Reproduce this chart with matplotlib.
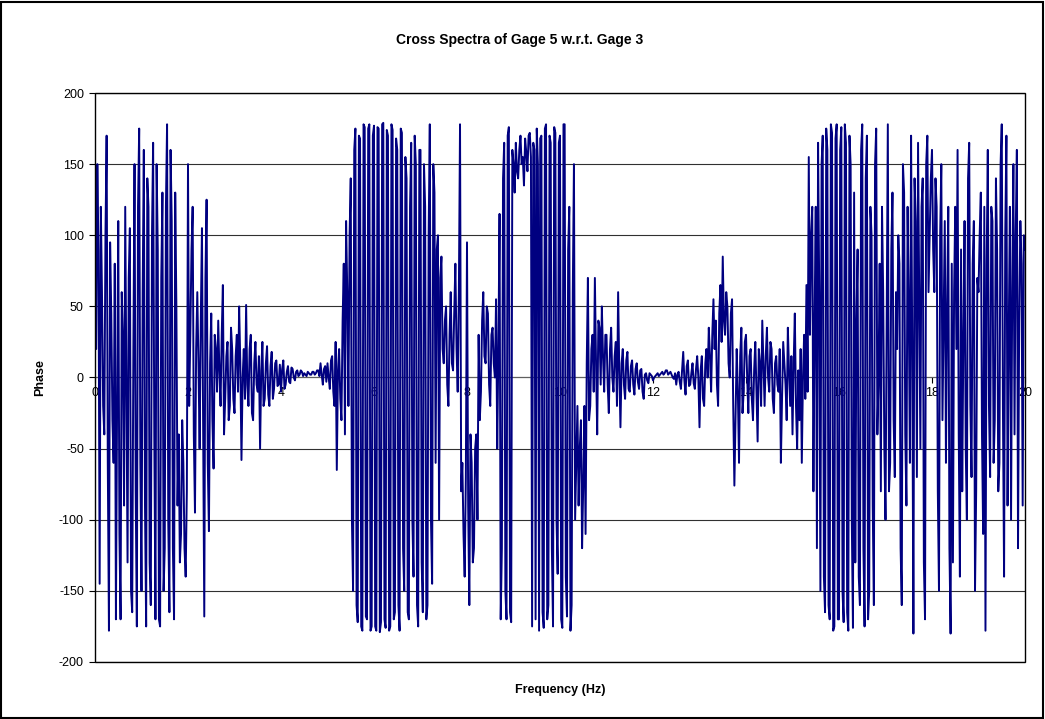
import matplotlib
matplotlib.use("Agg")
import matplotlib.pyplot as plt
import numpy as np
from matplotlib.patches import Rectangle

plt.rcParams['font.family'] = ['Liberation Sans', 'DejaVu Sans']
plt.rcParams['axes.unicode_minus'] = False

# phase (deg), one value every 0.025 Hz from 0 to 20 Hz
freq_step = 0.025
phase_0 = [130, 20, 150, 90, -145, 120, 60, -20, -40, 100, 170, -60, -178, 95, 45, -30, -60, 80, -170, -20,
           110, -110, -170, 60, 30, -90, 120, -10, -130, 70, 105, -150, -165, 20, 150, -80, -175, 120, 175, -60]
phase_1 = [-150, 60, 160, -90, -175, 140, 120, -130, -160, 100, 165, -40, -170, 150, 90, -170, -175, 70, 130, -150,
           -120, 120, 178, -100, -165, 160, 110, -120, -170, 130, 50, -90, -40, -130, -110, -30, -60, -120, -140, -80]
phase_2 = [150, -20, 30, 90, 120, -40, -95, 20, 60, 10, -50, 40, 105, -30, -168, 70, 125, -60, -108, 10,
           45, -30, -64, 30, 20, -10, 40, 5, -20, 30, 65, -40, -15, 15, 25, -30, -20, 35, 20, -15]
phase_3 = [-25, 15, 30, -10, 50, 10, -58, 0, 20, -15, 51, -5, -20, 20, 30, -25, -30, 10, 25, -5,
           -10, 15, -50, 5, 25, -20, -15, 10, 22, -12, -20, 8, 18, -15, -8, 10, 12, -6, -5, 9]
phase_4 = [-10, 6, 12, -8, -5, 4, 8, -3, -4, 7, 6, 0, -2, 4, 5, 1, 2, 5, 4, 1,
           3, 2, 1, 4, 3, 2, 2, 4, 4, 2, 3, 5, 5, 1, 10, 2, -5, 6, 8, -3]
phase_5 = [10, 0, -8, 12, 15, -10, -20, 25, -65, 5, 20, -15, -30, 40, 80, -40, 110, 60, -20, 100,
           140, -100, -150, 160, 175, -160, -172, 170, 168, -175, -178, 178, 176, -168, -170, 175, 178, -178, -175, 170]
phase_6 = [177, -175, -178, 176, 175, -179, -172, 178, 179, -170, -176, 174, 170, -178, -175, 178, 174, -170, -165, 168,
           160, -160, -178, 175, 172, -120, -150, 155, 140, -165, -170, 120, 165, -100, -140, 170, 150, -160, -175, 160]
phase_7 = [160, -130, -165, 150, 120, -170, -160, 100, 178, -100, -145, 150, 130, -60, 90, 100, -100, 70, 85, 20,
           10, 40, 50, -5, -20, 30, 60, 10, 5, 45, 80, 20, -10, 60, 178, -80, -60, -110, -140, -70]
phase_8 = [95, -90, -160, -40, -60, -130, -120, -50, -40, -100, 30, -30, -10, 40, 60, 15, 10, 50, 45, -5,
           -20, 30, 35, 10, 0, 55, -50, 20, 115, -170, -120, 140, 165, -150, -170, 170, 176, -165, -172, 160]
phase_9 = [150, 130, 165, 145, 140, 160, 170, 150, 155, 135, 168, 158, 145, 170, 172, 155, -175, 165, 160, -170,
           175, 150, -178, 168, 170, -165, -176, 175, 178, -170, -160, 170, 165, -120, -175, 176, 172, -100, -138, 165]
phase_10 = [170, -170, -176, 178, 178, -140, -168, 90, 120, -178, -160, 60, 150, -100, -60, -20, -90, -50, -30, -120,
            -75, -20, -110, 10, 70, -30, -20, 20, 30, -10, 70, 10, -40, 40, 35, -5, 50, 15, -10, 30]
phase_11 = [30, -5, -25, 20, 35, 0, -10, 15, 25, -20, 60, 5, -35, 10, 20, -5, -15, 12, 18, -8,
            -10, 8, 12, -5, -12, 6, 10, -3, -8, 5, 6, -10, -15, 2, 3, -2, -4, 3, 2, 1]
phase_12 = [-2, 0, 1, 2, 3, 1, 2, 3, 4, 2, 3, 5, 5, 2, 3, 4, 2, 0, -1, 3,
            -5, 2, 4, -3, -8, 5, 18, -2, -12, 8, 12, -6, -5, 3, 10, -4, -8, 6, 15, 0]
phase_13 = [-35, 5, 15, -15, -20, 10, 20, 0, 35, 15, -10, 30, 55, 20, 40, -5, -20, 45, 65, 25,
            85, 40, 30, 60, 50, 10, 0, 45, 55, -20, -76, -30, 20, -10, -60, 15, 35, -25, -10, 25]
phase_14 = [30, 0, -25, 15, 20, -15, -30, 5, 25, -10, -45, 20, 10, -20, 40, 10, -20, 15, 35, 0,
            -10, 25, 20, -15, -25, 10, 15, -5, -10, 20, -60, -15, 25, 10, -5, -30, 35, 5, -20, 15]
phase_15 = [-40, 10, 45, -20, -50, 5, -30, 20, -60, 0, 30, -15, 65, -10, 155, 30, 100, 120, -80, 40,
            120, -120, 165, 60, -150, 150, 170, -140, -165, 175, 160, -160, -170, 178, 172, -178, -175, 168, 178, -170]
phase_16 = [-170, 160, 176, -150, -172, 178, 165, -165, -178, 170, 150, -100, -176, 130, -130, 40, 90, -140, -160, 160,
            178, -120, -175, 140, 170, -170, -150, 120, 100, -90, -160, 150, 175, -40, 0, 80, -80, 120, 60, -50]
phase_17 = [-100, 40, 178, -80, -60, 90, 130, -30, -70, 60, 20, 100, 80, -120, -160, 150, 130, -40, -90, 120,
            50, -60, 170, 20, -180, 140, 110, -70, 165, 60, -50, 120, 140, -130, -170, 150, 170, 60, 100, 140]
phase_18 = [160, 90, 60, 140, 120, -80, -150, 100, 150, -30, 40, 110, -60, 50, 120, -120, -180, 80, -130, 60,
            120, 20, 160, -40, -140, 90, -80, 30, 110, -50, -100, 140, 165, -20, -70, 80, 110, -150, -80, 70]
phase_19 = [60, 100, 130, -40, -110, 120, -178, 80, 160, -20, -70, 120, 110, -60, -30, 140, 90, -80, -60, 150,
            178, -20, -140, 100, 170, -90, 30, 120, -100, 60, 150, -40, 100, 160, -120, 40, 110, 80, -90, 100, 90]

phase = np.array(phase_0 + phase_1 + phase_2 + phase_3 + phase_4 + phase_5 +
                 phase_6 + phase_7 + phase_8 + phase_9 + phase_10 + phase_11 +
                 phase_12 + phase_13 + phase_14 + phase_15 + phase_16 +
                 phase_17 + phase_18 + phase_19, dtype=float)
freq = np.arange(len(phase)) * freq_step

fig = plt.figure(figsize=(10.45, 7.19), dpi=100)
ax = fig.add_axes([95 / 1045, 1 - 662 / 719, 930 / 1045, 569 / 719])

ax.plot(freq, phase, color='#000080', lw=1.4, zorder=3)

ax.set_xlim(0, 20)
ax.set_ylim(-200, 200)
ax.set_yticks(np.arange(-200, 201, 50))
ax.set_xticks(np.arange(0, 21, 2))
ax.yaxis.grid(True, color='#303030', lw=0.8)
ax.set_axisbelow(True)

# x axis crosses at phase 0, like the spreadsheet chart
ax.spines['bottom'].set_position(('data', 0))
ax.spines['bottom'].set_color('#606060')
ax.spines['bottom'].set_linewidth(0.8)
for s in ['top', 'right', 'left']:
    ax.spines[s].set_visible(False)
ax.add_patch(Rectangle((0, 0), 1, 1, transform=ax.transAxes, fill=False,
                       lw=1.0, edgecolor='black', clip_on=False, zorder=4))

ax.tick_params(axis='y', direction='out', length=4, width=0.8, pad=4, labelsize=9)
ax.tick_params(axis='x', direction='out', length=4, width=0.8, pad=3, labelsize=9)

ax.set_ylabel('Phase', fontsize=9, fontweight='bold', labelpad=9)
fig.text(560 / 1045, 1 - 690 / 719, 'Frequency (Hz)', ha='center', va='center',
         fontsize=9, fontweight='bold')
fig.text(520 / 1045, 1 - 40 / 719, 'Cross Spectra of Gage 5 w.r.t. Gage 3',
         ha='center', va='center', fontsize=10, fontweight='bold')

fig.patches.append(Rectangle((1 / 1045, 1 / 719), 1042 / 1045, 716 / 719,
                             transform=fig.transFigure, fill=False,
                             edgecolor='black', lw=1.5))

fig.savefig('out.png', dpi=100)
